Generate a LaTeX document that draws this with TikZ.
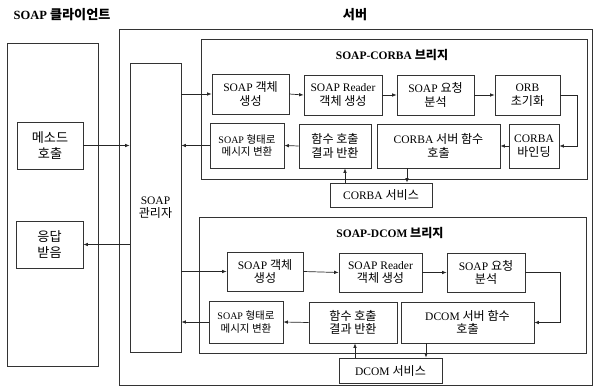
\documentclass[tikz,border=0pt]{standalone}
\usepackage{fontspec}
\setmainfont{Liberation Serif}
\newfontfamily\kr[Scale=1.05]{Noto Sans CJK KR}
\usetikzlibrary{arrows.meta}
\newcommand\K[1]{{\kr #1}}
\begin{document}
\begin{tikzpicture}[x=1pt,y=-1pt,
 box/.style={draw=black!80, line width=0.7pt, inner sep=1pt, align=center, font=\fontsize{11.5}{13.5}\selectfont},
 sbox/.style={box, font=\fontsize{10}{12.5}\selectfont},
 bbox/.style={box, font=\fontsize{12.5}{15.5}\selectfont},
 frame/.style={draw=black!80, line width=0.7pt, inner sep=0pt},
 arr/.style={draw=black!85, line width=0.7pt, -{Latex[length=4.5pt,width=3.5pt]}},
 title/.style={font=\fontsize{11.5}{14}\selectfont\bfseries, inner sep=0pt}]
\useasboundingbox (0,0) rectangle (594,388);
% titles
\node[title, font=\fontsize{12.5}{14}\selectfont\bfseries] (tcl) at (62,15) {SOAP \K{\bfseries 클라이언트}};
\node[title, font=\fontsize{12.5}{14}\selectfont\bfseries] (tsv) at (355,15) {\K{\bfseries 서버}};
% frames
\node[frame, minimum width=91pt, minimum height=323pt] (client) at (52.5,204.5) {};
\node[frame, minimum width=473pt, minimum height=356pt] (server) at (355.5,207) {};
\node[frame, minimum width=386pt, minimum height=140pt] (corba) at (394,109) {};
\node[frame, minimum width=387pt, minimum height=136pt] (dcom) at (392.5,285) {};
\node[title] (tco) at (392,55) {SOAP-CORBA \K{\bfseries 브리지}};
\node[title] (tdc) at (390,233) {SOAP-DCOM \K{\bfseries 브리지}};
% client side
\node[bbox, minimum width=66pt, minimum height=47pt] (method) at (50,145.5) {\K{메소드}\\\K{호출}};
\node[bbox, minimum width=67pt, minimum height=47pt] (resp) at (49.5,244.5) {\K{응답}\\\K{받음}};
\node[box, minimum width=51pt, minimum height=289pt] (mgr) at (155.5,207.5) {SOAP\\\K{관리자}};
% CORBA bridge
\node[box, minimum width=77pt, minimum height=40pt] (C1) at (250.5,94) {SOAP \K{객체}\\\K{생성}};
\node[box, minimum width=78pt, minimum height=40pt] (C2) at (343,95) {SOAP Reader\\\K{객체 생성}};
\node[box, minimum width=77pt, minimum height=40pt] (C3) at (435.5,95) {SOAP \K{요청}\\\K{분석}};
\node[box, minimum width=65pt, minimum height=40pt] (C4) at (527.5,95) {ORB\\\K{초기화}};
\node[sbox, minimum width=74pt, minimum height=45pt] (C5) at (247,145.5) {SOAP \K{형태로}\\\K{메시지 변환}};
\node[box, minimum width=72pt, minimum height=44pt] (C6) at (335,146) {\K{함수 호출}\\\K{결과 반환}};
\node[box, minimum width=123pt, minimum height=44pt] (C7) at (438.5,146) {CORBA \K{서버 함수}\\\K{호출}};
\node[box, minimum width=50pt, minimum height=44pt] (C8) at (534,146) {CORBA\\\K{바인딩}};
\node[box, minimum width=102pt, minimum height=24pt] (svcC) at (381,195) {CORBA \K{서비스}};
% DCOM bridge
\node[box, minimum width=76pt, minimum height=39pt] (D1) at (265,271.5) {SOAP \K{객체}\\\K{생성}};
\node[box, minimum width=83pt, minimum height=39pt] (D2) at (380.5,272.5) {SOAP Reader\\\K{객체 생성}};
\node[box, minimum width=78pt, minimum height=39pt] (D3) at (486,272.5) {SOAP \K{요청}\\\K{분석}};
\node[sbox, minimum width=74pt, minimum height=42pt] (D5) at (246,322) {SOAP \K{형태로}\\\K{메시지 변환}};
\node[box, minimum width=88pt, minimum height=41pt] (D6) at (353,322.5) {\K{함수 호출}\\\K{결과 반환}};
\node[box, minimum width=133pt, minimum height=41pt] (D7) at (467.5,322.5) {DCOM \K{서버 함수}\\\K{호출}};
\node[box, minimum width=103pt, minimum height=25pt] (svcD) at (390.5,370.5) {DCOM \K{서비스}};
% helper x positions
\coordinate (xa) at (345,0);
\coordinate (xb) at (407,0);
\coordinate (xc) at (355,0);
\coordinate (xd) at (426,0);
% client <-> manager
\draw[arr] (method.east) -- (mgr.west |- method.east);
\draw[arr] (mgr.west |- resp.east) -- (resp.east);
% CORBA flow
\draw[arr] (mgr.east |- C1.west) -- (C1.west);
\draw[arr] (C1.east) -- (C2.west);
\draw[arr] (C2.east) -- (C3.west);
\draw[arr] (C3.east) -- (C4.west);
\draw[arr] (C4.east) -- ++(17,0) |- (C8.east);
\draw[arr] (C8.west) -- (C7.east);
\draw[arr] (C7.south -| xb) -- (svcC.north -| xb);
\draw[arr] (svcC.north -| xa) -- (C6.south -| xa);
\draw[arr] (C6.west) -- (C5.east);
\draw[arr] (C5.west) -- (mgr.east |- C5.west);
% DCOM flow
\draw[arr] (mgr.east |- D1.west) -- (D1.west);
\draw[arr] (D1.east) -- (D2.west);
\draw[arr] (D2.east) -- (D3.west);
\draw[arr] (D3.east) -- ++(35,0) |- (D7.east);
\draw[arr] (D7.south -| xd) -- (svcD.north -| xd);
\draw[arr] (svcD.north -| xc) -- (D6.south -| xc);
\draw[arr] (D6.west) -- (D5.east);
\draw[arr] (D5.west) -- (mgr.east |- D5.west);
\end{tikzpicture}
\end{document}
